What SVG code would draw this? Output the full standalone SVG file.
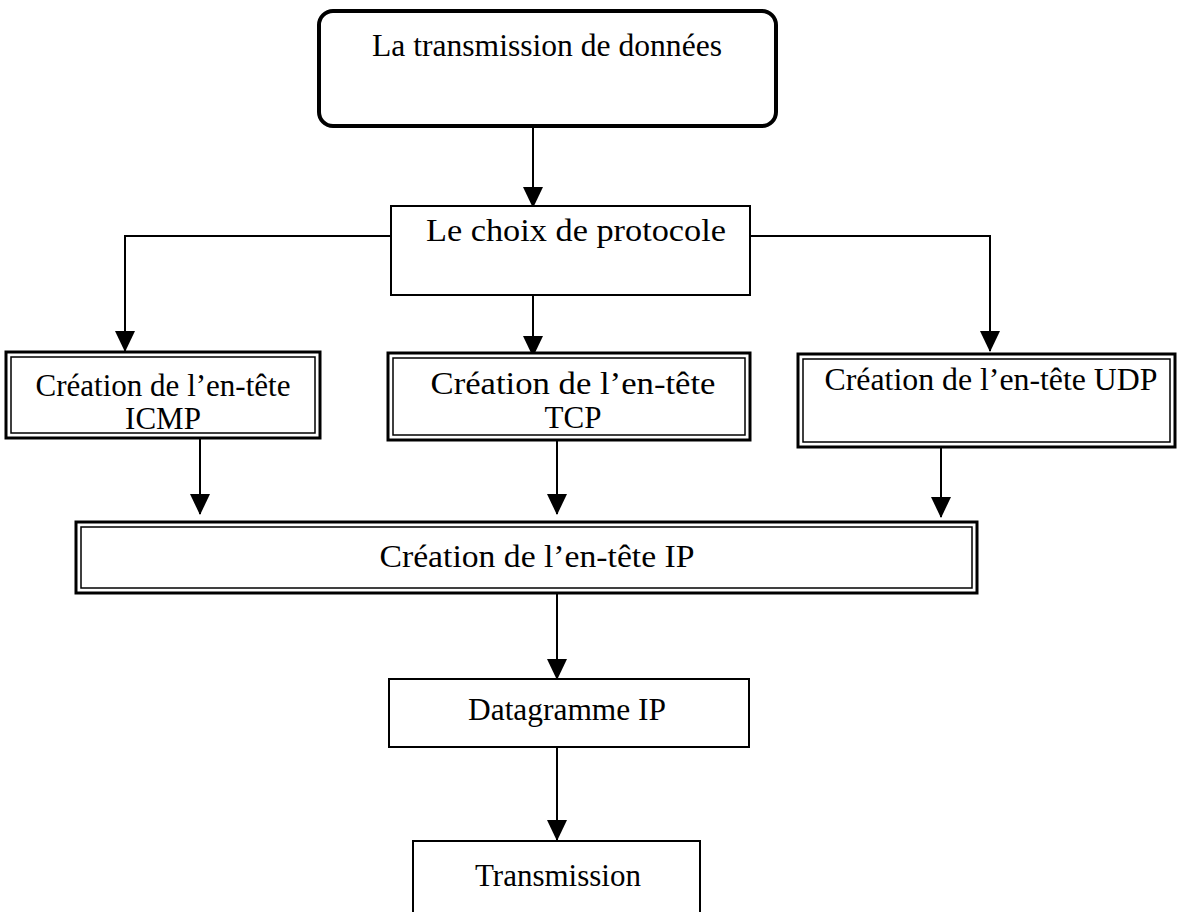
<svg xmlns="http://www.w3.org/2000/svg" width="1177" height="912" viewBox="0 0 1177 912">
<style>
.t{font-family:"Liberation Serif","Times New Roman",serif;font-size:31px;fill:#000;text-anchor:middle}
.box{fill:#fff;stroke:#000;stroke-width:2}
.outer{fill:#fff;stroke:#000;stroke-width:3}
.inner{fill:none;stroke:#000;stroke-width:1.5}
.c{fill:none;stroke:#000;stroke-width:2}
</style>
<defs>
<marker id="ah" markerUnits="userSpaceOnUse" markerWidth="22" markerHeight="22" refX="20" refY="11" orient="auto" viewBox="0 0 22 22">
<path d="M0,1 L21,11 L0,21 Z" fill="#000"/>
</marker>
</defs>
<rect width="1177" height="912" fill="#fff"/>
<g id="connectors">
<line class="c" x1="533" y1="127" x2="533" y2="207" marker-end="url(#ah)"/>
<polyline class="c" points="391,236 125,236 125,351" marker-end="url(#ah)"/>
<polyline class="c" points="750,236 990,236 990,351" marker-end="url(#ah)"/>
<line class="c" x1="533" y1="295" x2="533" y2="356" marker-end="url(#ah)"/>
<line class="c" x1="200" y1="438" x2="200" y2="514" marker-end="url(#ah)"/>
<line class="c" x1="557" y1="440" x2="557" y2="514" marker-end="url(#ah)"/>
<line class="c" x1="941" y1="447" x2="941" y2="517" marker-end="url(#ah)"/>
<line class="c" x1="557" y1="593" x2="557" y2="679" marker-end="url(#ah)"/>
<line class="c" x1="557" y1="747" x2="557" y2="840" marker-end="url(#ah)"/>
</g>
<g id="n-top">
<rect x="319" y="11" width="457" height="115" rx="14" fill="#fff" stroke="#000" stroke-width="4"/>
<text class="t" x="547" y="56" font-size="32" textLength="350" lengthAdjust="spacingAndGlyphs">La transmission de données</text>
</g>
<g id="n-choix">
<rect class="box" x="391" y="206" width="359" height="89"/>
<text class="t" x="576" y="241" textLength="300" lengthAdjust="spacingAndGlyphs">Le choix de protocole</text>
</g>
<g id="n-icmp">
<rect class="outer" x="6" y="352" width="314" height="86"/>
<rect class="inner" x="11" y="357" width="304" height="76"/>
<text class="t" x="163" y="396" textLength="255" lengthAdjust="spacingAndGlyphs">Création de l’en-tête</text>
<text class="t" x="163" y="429">ICMP</text>
</g>
<g id="n-tcp">
<rect class="outer" x="388" y="353" width="362" height="87"/>
<rect class="inner" x="393" y="358" width="352" height="77"/>
<text class="t" x="573" y="394" textLength="285" lengthAdjust="spacingAndGlyphs">Création de l’en-tête</text>
<text class="t" x="573" y="428">TCP</text>
</g>
<g id="n-udp">
<rect class="outer" x="798" y="354" width="377" height="93"/>
<rect class="inner" x="803" y="359" width="367" height="83"/>
<text class="t" x="991" y="390" textLength="333" lengthAdjust="spacingAndGlyphs">Création de l’en-tête UDP</text>
</g>
<g id="n-ip">
<rect class="outer" x="76" y="522" width="901" height="71"/>
<rect class="inner" x="81" y="527" width="891" height="61"/>
<text class="t" x="537" y="567" textLength="315" lengthAdjust="spacingAndGlyphs">Création de l’en-tête IP</text>
</g>
<g id="n-datagramme">
<rect class="box" x="389" y="679" width="360" height="68"/>
<text class="t" x="567" y="720" textLength="198" lengthAdjust="spacingAndGlyphs">Datagramme IP</text>
</g>
<g id="n-transmission">
<rect class="box" x="413" y="841" width="287" height="80"/>
<text class="t" x="558" y="886">Transmission</text>
</g>
</svg>
